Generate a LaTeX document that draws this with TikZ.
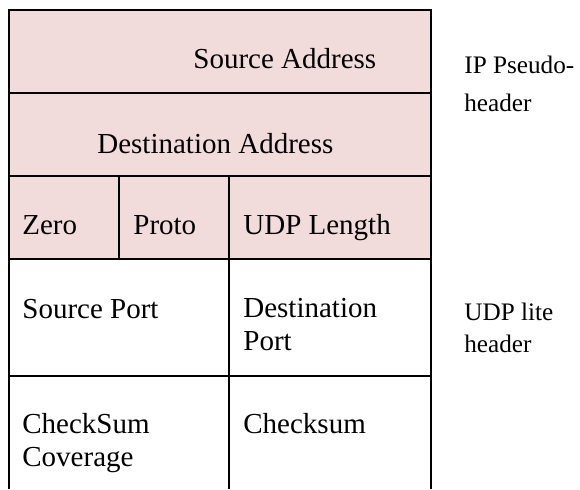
\documentclass[tikz,border=0pt]{standalone}
\usepackage{fontspec}
\setmainfont{Liberation Serif}
\definecolor{pseudofill}{RGB}{242,220,219}
\tikzset{
  grid line/.style={line width=1pt, black},
  celltext/.style={anchor=base west, inner sep=0pt, align=left,
    font=\fontsize{14.5pt}{16.5pt}\selectfont},
  sidetext/.style={anchor=base west, inner sep=0pt, align=left,
    font=\fontsize{12.6pt}{19pt}\selectfont},
}
\begin{document}
\begin{tikzpicture}[x=0.5pt, y=-0.5pt]
  \useasboundingbox (0,0) rectangle (580,489);
  % pseudo-header background
  \fill[pseudofill] (9,10) rectangle (431,259);
  % outer frame, open at the bottom
  \draw[grid line] (9,489) -- (9,10) -- (431,10) -- (431,489);
  % row separators
  \draw[grid line] (9,93) -- (431,93);
  \draw[grid line] (9,176) -- (431,176);
  \draw[grid line] (9,259) -- (431,259);
  \draw[grid line] (9,376) -- (431,376);
  % column separators
  \draw[grid line] (119,176) -- (119,259);
  \draw[grid line] (229,176) -- (229,489);

  % cell labels (multi-line nodes sit on the baseline of their last line)
  \node[celltext] (srcaddr) at (193,68) {Source Address};
  \node[celltext] (dstaddr) at (97,153) {Destination Address};
  \node[celltext] (zero) at (22,234) {Zero};
  \node[celltext] (proto) at (133,234) {Proto};
  \node[celltext] (udplen) at (243,234) {UDP Length};
  \node[celltext] (srcport) at (22,318) {Source Port};
  \node[celltext] (dstport) at (243,350) {Destination\\Port};
  \node[celltext] (coverage) at (22,466) {CheckSum\\Coverage};
  \node[celltext] (checksum) at (243,433) {Checksum};

  % side annotations
  \node[sidetext] (pseudo) at (464,111) {IP Pseudo-\\header};
  \node[sidetext, font=\fontsize{12.6pt}{16pt}\selectfont] (litehdr) at (464,352) {UDP lite\\header};
\end{tikzpicture}
\end{document}
